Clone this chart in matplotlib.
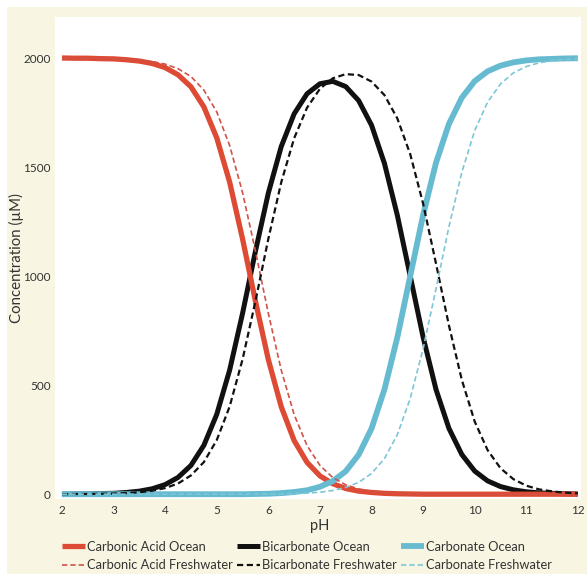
import matplotlib
matplotlib.use('Agg')
import matplotlib.pyplot as plt
from matplotlib.patches import Rectangle

# pH grid (0.25 steps) and concentrations, in uM
ph = [2.0, 2.25, 2.5, 2.75, 3.0, 3.25, 3.5, 3.75, 4.0, 4.25, 4.5, 4.75, 5.0, 5.25,
      5.5, 5.75, 6.0, 6.25, 6.5, 6.75, 7.0, 7.25, 7.5, 7.75, 8.0, 8.25, 8.5, 8.75,
      9.0, 9.25, 9.5, 9.75, 10.0, 10.25, 10.5, 10.75, 11.0, 11.25, 11.5, 11.75, 12.0]

carbonic_ocean = [2000, 1999, 1999, 1997, 1996, 1992, 1986, 1975, 1956, 1923, 1868, 1776,
                  1634, 1431, 1171, 885, 617, 401, 246, 146, 84, 48, 26, 14, 8, 4, 2, 1,
                  0, 0, 0, 0, 0, 0, 0, 0, 0, 0, 0, 0, 0]
bicarb_ocean = [0, 1, 1, 3, 4, 8, 14, 25, 44, 77, 132, 224, 366, 569, 829, 1114, 1381,
                1594, 1744, 1836, 1882, 1893, 1869, 1805, 1692, 1517, 1279, 1000, 720,
                480, 302, 182, 106, 61, 35, 20, 11, 6, 4, 2, 1]
carbonate_ocean = [0, 0, 0, 0, 0, 0, 0, 0, 0, 0, 0, 0, 0, 0, 0, 1, 2, 5, 10, 18, 34, 60,
                   105, 181, 301, 480, 719, 1000, 1280, 1520, 1698, 1818, 1894, 1939,
                   1965, 1980, 1989, 1994, 1996, 1998, 1999]

carbonic_fresh = [2000, 1999, 1999, 1998, 1997, 1995, 1991, 1984, 1972, 1951, 1915, 1853,
                  1753, 1599, 1383, 1115, 829, 569, 365, 223, 132, 76, 43, 24, 13, 7, 4,
                  2, 1, 0, 0, 0, 0, 0, 0, 0, 0, 0, 0, 0, 0]
bicarb_fresh = [0, 1, 1, 2, 3, 5, 9, 16, 28, 49, 86, 147, 248, 402, 618, 885, 1171, 1430,
                1632, 1772, 1859, 1907, 1926, 1922, 1892, 1830, 1723, 1559, 1332, 1057,
                774, 524, 333, 202, 119, 69, 39, 22, 13, 7, 4]
carbonate_fresh = [0, 0, 0, 0, 0, 0, 0, 0, 0, 0, 0, 0, 0, 0, 0, 0, 1, 1, 3, 5, 9, 17, 31,
                   54, 95, 163, 273, 439, 667, 942, 1226, 1476, 1667, 1798, 1881, 1932,
                   1961, 1978, 1988, 1993, 1996]

x_ticks = [2, 3, 4, 5, 6, 7, 8, 9, 10, 11, 12]
y_ticks = [0, 500, 1000, 1500, 2000]

plt.rcParams['font.family'] = ['Lato', 'DejaVu Sans']

RED = '#dd4b34'
BLACK = '#111111'
CYAN = '#67bbd1'

fig = plt.figure(figsize=(5.87, 5.74), dpi=100, facecolor='white')
# cream panel behind the plot
fig.patches.append(Rectangle((7 / 587, 0), 1, 1 - 7 / 574, transform=fig.transFigure,
                             facecolor='#f8f6e2', edgecolor='none', zorder=-5))

ax = fig.add_axes([55 / 587, 75 / 574, 526 / 587, 482 / 574])
ax.set_zorder(2)
ax.set_facecolor('white')

l1, = ax.plot(ph, bicarb_ocean, color=BLACK, lw=3.6, solid_capstyle='butt', zorder=2)
l2, = ax.plot(ph, carbonic_ocean, color=RED, lw=3.8, solid_capstyle='butt', zorder=3)
l3, = ax.plot(ph, carbonate_ocean, color=CYAN, lw=4.2, solid_capstyle='butt', zorder=3)
d1, = ax.plot(ph, carbonic_fresh, color='#cf5347', lw=1.2, ls=(0, (3.2, 1.8)), zorder=4)
d2, = ax.plot(ph, bicarb_fresh, color=BLACK, lw=1.6, ls=(0, (2.8, 1.6)), zorder=4)
d3, = ax.plot(ph, carbonate_fresh, color='#7cc6d8', lw=1.2, ls=(0, (3.2, 1.8)), zorder=4)

ax.set_xlim(1.865, 12.06)
ax.set_ylim(-22, 2188)
ax.set_xticks(x_ticks)
ax.set_yticks(y_ticks)
for s in ax.spines.values():
    s.set_visible(False)
ax.tick_params(length=0, labelsize=8.5, colors='#333333')
ax.tick_params(axis='x', pad=4)
ax.tick_params(axis='y', pad=3)

ax.set_ylabel('Concentration (µM)', fontsize=10.8, color='#333333')
ax.yaxis.set_label_coords(-0.058, 0.5)
ax.set_xlabel('pH', fontsize=10.5, color='#333333')
ax.xaxis.set_label_coords(0.504, -0.042)

# legend is column-major: ocean / freshwater pairs per column
handles = [l2, d1, l1, d2, l3, d3]
labels = ['Carbonic Acid Ocean', 'Carbonic Acid Freshwater',
          'Bicarbonate Ocean', 'Bicarbonate Freshwater',
          'Carbonate Ocean', 'Carbonate Freshwater']
leg = fig.legend(handles, labels, ncol=3, loc='upper left',
                 bbox_to_anchor=(62 / 587, 1 - 541 / 574), frameon=False,
                 fontsize=9.3, handlelength=1.8, handletextpad=0.12,
                 columnspacing=0.35, labelspacing=0.5, borderpad=0, borderaxespad=0)
for t in leg.get_texts():
    t.set_color('#333333')

fig.savefig('out.png', dpi=100, facecolor=fig.get_facecolor())
